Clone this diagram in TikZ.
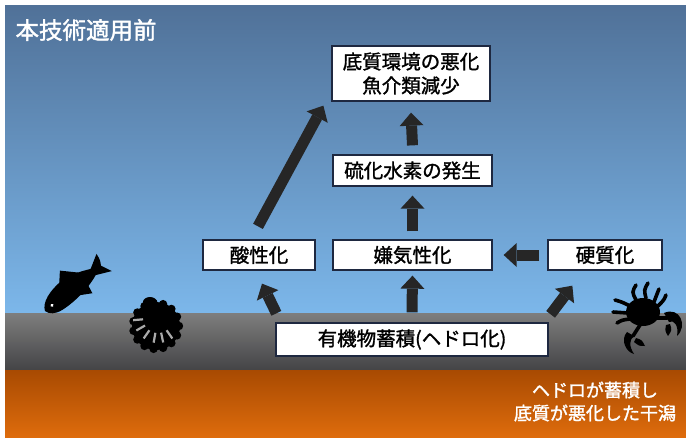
\documentclass[tikz,border=0pt]{standalone}
\usepackage{fontspec}
\newfontfamily\jp[AutoFakeBold=1.6]{Noto Sans CJK JP}
\newfontfamily\jpm[FakeBold=1.4]{Noto Sans CJK JP}
\usetikzlibrary{arrows.meta,calc}
\definecolor{skytop}{RGB}{80,113,152}
\definecolor{skymid}{RGB}{100,150,202}
\definecolor{skybot}{RGB}{124,183,234}
\definecolor{mudtop}{RGB}{126,126,126}
\definecolor{mudbot}{RGB}{68,68,70}
\definecolor{flattop}{RGB}{168,74,2}
\definecolor{flatbot}{RGB}{222,108,12}
\definecolor{boxline}{RGB}{30,40,64}
\definecolor{arrowc}{RGB}{38,38,38}
\definecolor{ray}{RGB}{170,170,170}

\begin{document}
\begin{tikzpicture}[x=1pt,y=-1pt,
  label/.style={draw=boxline, line width=1.3pt, fill=white, inner sep=0pt,
    align=center, font=\jpm\fontsize{19.5}{24}\selectfont},
  blk/.style={draw=arrowc, line width=11pt,
    -{Triangle[width=24pt,length=13pt,line width=0pt]}},
  critter/.style={fill=black},
  leg/.style={draw=black, line width=3.6pt, line cap=round}]

% canvas and the three layers: water, mud, tidal flat
\useasboundingbox (0,0) rectangle (686,437);
\fill[white] (0,0) rectangle (686,437);
\shade[top color=skytop, middle color=skymid, bottom color=skybot] (5,5) rectangle (686,313);
\shade[top color=mudtop, bottom color=mudbot] (5,313) rectangle (686,370);
\shade[top color=flattop, bottom color=flatbot] (5,370) rectangle (686,437);

% headings
\node[anchor=west, text=white, font=\jp\bfseries\fontsize{23.5}{26}\selectfont] (title) at (12,30) {本技術適用前};
\node[text=white, align=center, font=\jp\bfseries\fontsize{18}{23}\selectfont] (note) at (595,401.5) {ヘドロが蓄積し\\底質が悪化した干潟};

% process boxes
\node[label, minimum width=158pt, minimum height=55pt] (top) at (411,73.5) {底質環境の悪化\\魚介類減少};
\node[label, minimum width=159pt, minimum height=31pt] (sulfide) at (412.5,170.5) {硫化水素の発生};
\node[label, minimum width=112pt, minimum height=30pt] (acid) at (259,255) {酸性化};
\node[label, minimum width=159pt, minimum height=30pt] (anaer) at (412.5,255) {嫌気性化};
\node[label, minimum width=114pt, minimum height=30pt] (hard) at (605,255) {硬質化};
\node[label, minimum width=272pt, minimum height=33pt] (organic) at (412,339.5) {有機物蓄積(ヘドロ化)};

% block arrows
\draw[blk] ([yshift=9pt]sulfide.north) -- ([yshift=-11pt]top.south);
\draw[blk] ([yshift=8pt]anaer.north) -- ([yshift=-9pt]sulfide.south);
\draw[blk] ([xshift=-8pt]hard.west) -- ([xshift=11pt]anaer.east);
\draw[blk] ([yshift=10pt]organic.north) -- ([yshift=-5pt]anaer.south);
\draw[blk] ([xshift=1pt,yshift=9pt]organic.north west) -- ([xshift=3pt,yshift=-13pt]acid.south);
\draw[blk] ([xshift=2pt,yshift=8pt]organic.north east) -- ([xshift=25pt,yshift=-15pt]hard.south west);
\draw[blk] ([xshift=-1pt,yshift=13pt]acid.north) -- ([xshift=-8pt,yshift=-4pt]top.south west);

% fish
\begin{scope}[shift={(45,311)}, rotate=39]
  \fill[critter] (0,0) .. controls (3,-8) and (16,-13) .. (32,-13)
    .. controls (46,-12) and (55,-7) .. (62,-4) -- (76,-12)
    .. controls (75,-5) .. (72,0) .. controls (75,5) .. (77,11) -- (62,4)
    .. controls (50,9) and (30,12) .. (14,10) .. controls (6,9) and (1,5) .. (0,0) -- cycle;
  \fill[critter] (28,-12) -- (37,-22) -- (50,-9) -- cycle;
  \fill[critter] (36,9) -- (48,16) -- (50,6) -- cycle;
  \fill[white] (9,0) circle (1.7);
\end{scope}

% scallop
\fill[critter] (156,326) circle (24);
\foreach \a in {0,24,...,336} \fill[critter] ($(156,326)+(\a:23)$) circle (4.2);
\fill[critter] (150,302) ellipse [x radius=7, y radius=5];
\foreach \a in {175,150,125,100,78,55}
  \draw[ray, line width=2.2pt] ($(158,318)+(\a:15)$) -- ($(158,318)+(\a:25)$);

% crab
\fill[critter] (643,312) ellipse [x radius=17, y radius=14];
\draw[leg] (636,300) .. controls (632,292) .. (636,285);
\draw[leg] (646,298) .. controls (644,290) .. (648,283);
\draw[leg] (654,302) .. controls (657,294) .. (659,289);
\draw[leg] (658,306) .. controls (664,300) .. (666,295);
\draw[leg] (630,306) .. controls (622,302) .. (615,300);
\draw[leg] (628,313) -- (613,312);
\draw[leg] (630,319) .. controls (622,320) .. (617,323);
\draw[leg] (655,318) -- (667,318);
\fill[critter] (664,313) .. controls (680,306) and (688,326) .. (677,336)
  .. controls (679,326) and (674,319) .. (669,322) -- cycle;
\fill[critter] (670,324) .. controls (672,330) .. (668,336) .. controls (665,331) .. (666,325) -- cycle;
\draw[leg] (640,325) -- (633,336);
\fill[critter] (627,332) .. controls (620,340) and (626,352) .. (634,354)
  .. controls (629,346) and (629,340) .. (634,336) -- cycle;
\fill[critter] (636,338) .. controls (642,340) .. (645,346) .. controls (639,346) .. (634,342) -- cycle;
\end{tikzpicture}
\end{document}
